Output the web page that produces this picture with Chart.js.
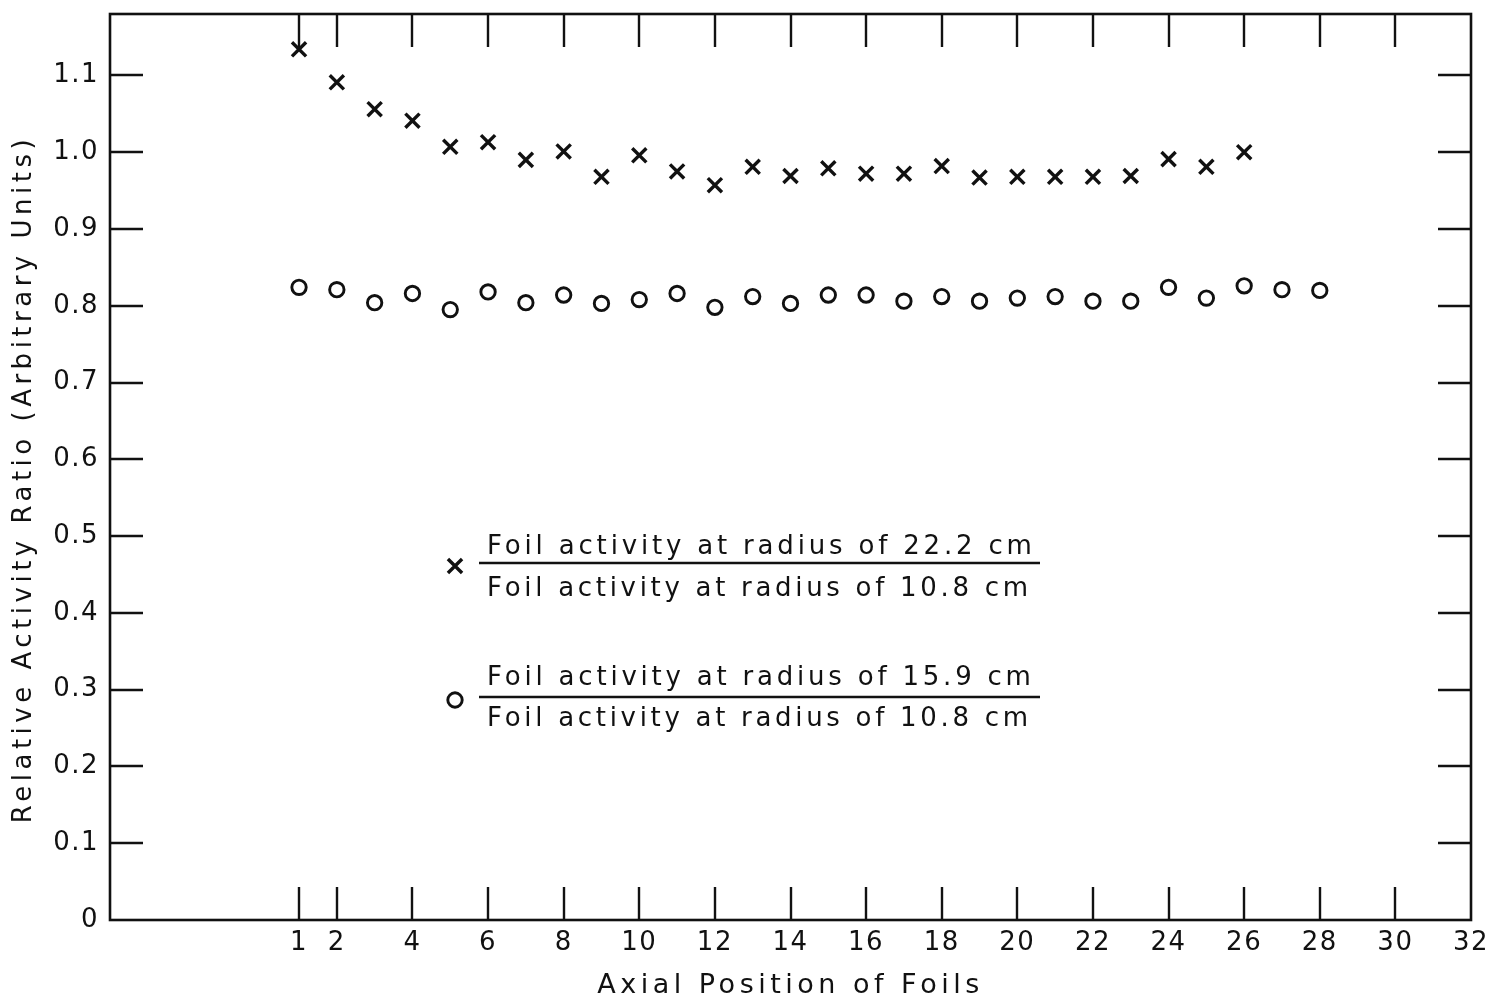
<!DOCTYPE html>
<html>
<head>
<meta charset="utf-8">
<script src="https://cdn.jsdelivr.net/npm/chart.js@4.4.1/dist/chart.umd.min.js"></script>
<style>
html,body{margin:0;padding:0;background:#fff;overflow:hidden}
canvas{display:block}
</style>
</head>
<body>
<canvas id="chart" width="1499" height="999"></canvas>
<script>
// ---- data ----
const foilPositions = [1,2,3,4,5,6,7,8,9,10,11,12,13,14,15,16,17,18,19,20,21,22,23,24,25,26,27,28];
// ratio of foil activity at 22.2 cm / 10.8 cm  (x markers)
const ratio222 = [1.134,1.091,1.056,1.041,1.007,1.013,0.990,1.001,0.968,0.996,0.975,0.957,0.981,0.969,0.979,0.972,0.972,0.982,0.967,0.968,0.968,0.968,0.969,0.991,0.981,1.000];
// ratio of foil activity at 15.9 cm / 10.8 cm  (o markers)
const ratio159 = [0.824,0.821,0.804,0.816,0.795,0.818,0.804,0.814,0.803,0.808,0.816,0.798,0.812,0.803,0.814,0.814,0.806,0.812,0.806,0.810,0.812,0.806,0.806,0.824,0.810,0.826,0.821,0.820];
const xTickValues = [1,2,4,6,8,10,12,14,16,18,20,22,24,26,28,30,32];
const yTickValues = [0,0.1,0.2,0.3,0.4,0.5,0.6,0.7,0.8,0.9,1.0,1.1];
const xTitle = 'Axial Position of Foils';
const yTitle = 'Relative Activity Ratio (Arbitrary Units)';
const legendNumerators = ['Foil activity at radius of 22.2 cm', 'Foil activity at radius of 15.9 cm'];
const legendDenominators = ['Foil activity at radius of 10.8 cm', 'Foil activity at radius of 10.8 cm'];

// ---- styling ----
const INK = '#111';
const FONT = "'DejaVu Sans', sans-serif";
const TICK_LEN = 33;
const Y_TITLE_SHIFT = 12;

const crossStyle = {pointStyle: 'crossRot', pointRadius: 10, borderWidth: 3.4};
const circleStyle = {pointStyle: 'circle', pointRadius: 7.2, borderWidth: 2.9};

const spacingPlugin = {
  id: 'spacing',
  afterLayout(chart) {
    const ys = chart.scales.y;
    if (ys && !ys._titleShifted) {
      const orig = ys.drawTitle.bind(ys);
      ys.drawTitle = function () {
        const c = this.ctx;
        c.save(); c.translate(0, Y_TITLE_SHIFT); orig(); c.restore();
      };
      ys._titleShifted = true;
    }
  },
  beforeDraw(chart) { chart.ctx.letterSpacing = '4.5px'; },
  afterDatasetsDraw(chart) { chart.ctx.letterSpacing = '1.5px'; }
};

const framePlugin = {
  id: 'frame',
  beforeDatasetsDraw(chart) {
    const {ctx, chartArea: a, scales} = chart;
    ctx.save();
    ctx.strokeStyle = INK;
    ctx.lineWidth = 2.4;
    ctx.beginPath();
    xTickValues.forEach(v => {
      const px = Math.round(scales.x.getPixelForValue(v));
      if (px >= a.right - 2) return;
      ctx.moveTo(px, a.bottom); ctx.lineTo(px, a.bottom - TICK_LEN);
      ctx.moveTo(px, a.top); ctx.lineTo(px, a.top + TICK_LEN);
    });
    yTickValues.forEach(v => {
      const py = Math.round(scales.y.getPixelForValue(v));
      if (py >= a.bottom - 2) return;
      ctx.moveTo(a.left, py); ctx.lineTo(a.left + TICK_LEN, py);
      ctx.moveTo(a.right, py); ctx.lineTo(a.right - TICK_LEN, py);
    });
    ctx.stroke();
    ctx.lineWidth = 2.6;
    ctx.strokeRect(a.left, a.top, a.right - a.left, a.bottom - a.top);
    ctx.restore();
  }
};

const legendPlugin = {
  id: 'fractionLegend',
  afterDraw(chart) {
    const ctx = chart.ctx;
    const textX = 487, barX0 = 479, barX1 = 1040, markX = 455;
    const blocks = [
      {num: legendNumerators[0], den: legendDenominators[0], numBase: 554, bar: 563, denBase: 596, markY: 566, style: crossStyle, fill: INK, w1: 545, w2: 541},
      {num: legendNumerators[1], den: legendDenominators[1], numBase: 685, bar: 697, denBase: 726, markY: 700, style: circleStyle, fill: 'rgba(0,0,0,0)', w1: 544, w2: 541}
    ];
    ctx.save();
    ctx.fillStyle = INK;
    ctx.strokeStyle = INK;
    ctx.font = '26px ' + FONT;
    ctx.textAlign = 'left';
    ctx.textBaseline = 'alphabetic';
    const fit = (txt, w) => {
      ctx.letterSpacing = '0px';
      const w0 = ctx.measureText(txt).width;
      ctx.letterSpacing = ((w - w0) / (txt.length - 1)).toFixed(2) + 'px';
    };
    blocks.forEach(b => {
      ctx.fillStyle = INK;
      fit(b.num, b.w1); ctx.fillText(b.num, textX, b.numBase);
      fit(b.den, b.w2); ctx.fillText(b.den, textX, b.denBase);
      ctx.lineWidth = 2.5;
      ctx.beginPath(); ctx.moveTo(barX0, b.bar); ctx.lineTo(barX1, b.bar); ctx.stroke();
      ctx.lineWidth = b.style.borderWidth;
      ctx.fillStyle = b.fill;
      Chart.helpers.drawPoint(ctx, {pointStyle: b.style.pointStyle, radius: b.style.pointRadius, borderWidth: b.style.borderWidth, rotation: 0}, markX, b.markY);
    });
    ctx.restore();
  }
};

new Chart(document.getElementById('chart'), {
  type: 'scatter',
  data: {
    datasets: [
      Object.assign({
        label: '22.2 cm / 10.8 cm',
        data: ratio222.map((v, i) => ({x: foilPositions[i], y: v})),
        borderColor: INK, backgroundColor: INK
      }, crossStyle),
      Object.assign({
        label: '15.9 cm / 10.8 cm',
        data: ratio159.map((v, i) => ({x: foilPositions[i], y: v})),
        borderColor: INK, backgroundColor: 'rgba(0,0,0,0)'
      }, circleStyle)
    ]
  },
  options: {
    responsive: false,
    animation: false,
    devicePixelRatio: 1,
    layout: {padding: {top: 14, right: 28, left: 0, bottom: 0}},
    plugins: {legend: {display: false}, tooltip: {enabled: false}},
    scales: {
      x: {
        type: 'linear', min: -4, max: 32,
        afterBuildTicks: s => { s.ticks = xTickValues.map(v => ({value: v})); },
        afterFit: s => { s.height = 79; s.paddingLeft = 0; s.paddingRight = 0; },
        grid: {display: false, drawTicks: false},
        border: {display: false},
        ticks: {z: 1, autoSkip: false, maxRotation: 0, minRotation: 0, padding: 8, color: INK,
                font: {family: FONT, size: 26}, callback: v => String(v)},
        title: {display: true, text: xTitle, color: INK, font: {family: FONT, size: 27}, padding: {top: 0, bottom: -3}}
      },
      y: {
        type: 'linear', min: 0, max: 1.18,
        afterBuildTicks: s => { s.ticks = yTickValues.map(v => ({value: v})); },
        afterFit: s => { s.width = 110; s.paddingTop = 0; s.paddingBottom = 0; },
        grid: {display: false, drawTicks: false},
        border: {display: false},
        ticks: {z: 1, autoSkip: false, padding: 11, color: INK,
                font: {family: FONT, size: 26}, callback: v => (v === 0 ? '0' : Number(v).toFixed(1))},
        title: {display: true, text: yTitle, color: INK, font: {family: FONT, size: 26}, padding: {top: 9, bottom: 0}}
      }
    }
  },
  plugins: [spacingPlugin, framePlugin, legendPlugin]
});
</script>
</body>
</html>
